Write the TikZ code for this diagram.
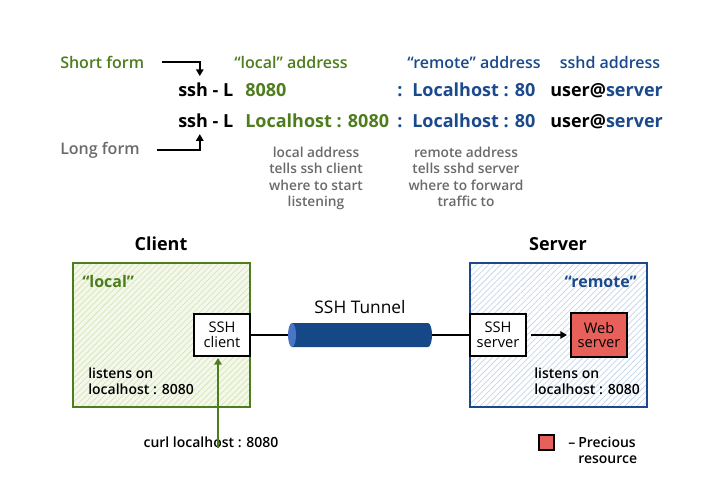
\documentclass[tikz,border=0pt]{standalone}
\usepackage{fontspec}
\setmainfont{Open Sans}
\IfFontExistsTF{Open Sans Semibold}{\newfontfamily\semib{Open Sans Semibold}}{\newcommand\semib{\bfseries}}
\usetikzlibrary{positioning,arrows.meta,patterns.meta}

\definecolor{locgreen}{HTML}{4E7D1E}
\definecolor{remblue}{HTML}{1B4A8C}
\definecolor{notegray}{HTML}{6A6A6A}
\definecolor{hatchgreen}{HTML}{D5E5B8}
\definecolor{palegreen}{HTML}{F4F8EA}
\definecolor{hatchblue}{HTML}{C6D6EC}
\definecolor{tunnelblue}{HTML}{164786}
\definecolor{capblue}{HTML}{4A74C4}
\definecolor{precred}{HTML}{E8605A}

\tikzset{
  heading/.style={font=\fontsize{12}{14}\selectfont\semib, inner sep=0pt, anchor=base},
  cmd/.style={font=\fontsize{13.5}{16}\selectfont\bfseries, inner sep=0pt, anchor=base west},
  note/.style={font=\fontsize{10.3}{12.2}\selectfont\semib, text=notegray, align=center, inner sep=0pt, anchor=north},
  title/.style={font=\fontsize{13.5}{16}\selectfont\bfseries, inner sep=0pt, anchor=base},
  listen/.style={font=\fontsize{10.5}{12}\selectfont\semib, align=left, inner sep=0pt, anchor=north west},
  hostbox/.style={line width=1.5pt, minimum width=132.75pt, minimum height=108pt, inner sep=0pt, outer sep=0pt},
  clientbox/.style={hostbox, draw=locgreen, preaction={fill=palegreen},
    pattern={Lines[angle=45,distance=3.2pt,line width=0.55pt]}, pattern color=hatchgreen},
  serverbox/.style={hostbox, draw=remblue, preaction={fill=white},
    pattern={Lines[angle=45,distance=3.2pt,line width=0.55pt]}, pattern color=hatchblue},
  procbox/.style={draw=black, line width=1.5pt, fill=white, minimum width=42pt, minimum height=31.5pt,
    align=center, inner sep=0pt, outer sep=0pt, font=\fontsize{11}{11}\selectfont},
  link/.style={line width=1.5pt},
  pointer/.style={line width=1.5pt, -{Triangle[length=5pt,width=5.5pt]}}
}

\begin{document}
\begin{tikzpicture}[x=0.75pt, y=-0.75pt]
  \useasboundingbox (0,0) rectangle (720,500);
  \fill[white] (0,0) rectangle (720,500);

  % command line, two forms
  \node[heading, text=locgreen, anchor=base west] (short) at (60,68) {Short form};
  \node[heading, text=notegray, anchor=base west] (long) at (60,154) {Long form};
  \node[heading, text=locgreen] (lochead) at (291,68) {“local” address};
  \node[heading, text=remblue] (remhead) at (474,68) {“remote” address};
  \node[heading, text=remblue] (sshdhead) at (610,68) {sshd address};

  \node[cmd] (cmdA) at (178,96) {ssh - L};
  \node[cmd, text=locgreen] (portA) at (245,96) {8080};
  \node[cmd, text=remblue, anchor=base] (colA) at (400,96) {:};
  \node[cmd, text=remblue] (remA) at (412,96) {Localhost : 80};
  \node[cmd] (userA) at (550,96) {user@\textcolor{remblue}{server}};

  \node[cmd] (cmdB) at (178,127) {ssh - L};
  \node[cmd, text=locgreen] (portB) at (245,127) {Localhost : 8080};
  \node[cmd, text=remblue, anchor=base] (colB) at (400,127) {:};
  \node[cmd, text=remblue] (remB) at (412,127) {Localhost : 80};
  \node[cmd] (userB) at (550,127) {user@\textcolor{remblue}{server}};

  \draw[pointer] ([xshift=13pt]short.east) -| ([xshift=-4.5pt,yshift=4.5pt]cmdA.north);
  \draw[pointer] ([xshift=13pt]long.east) -| ([xshift=-4.5pt,yshift=-5pt]cmdB.south);

  % notes
  \node[note] (locnote) at (316,147) {local address\\tells ssh client\\where to start\\listening};
  \node[note] (remnote) at (466,147) {remote address\\tells sshd server\\where to forward\\traffic to};

  % client side
  \node[title] (clienthead) at (161,250) {Client};
  \node[clientbox] (client) at (161.5,335) {};
  \node[heading, anchor=base west, text=locgreen, font=\fontsize{12}{14}\selectfont\bfseries] (local) at (82,287) {“local”};
  \node[procbox, anchor=east] (sshc) at (client.east) {SSH\\client};
  \node[listen] (clisten) at (88,368) {listens on\\localhost : 8080};
  \node[font=\fontsize{10.5}{12}\selectfont\semib, inner sep=0pt, anchor=base] (curl) at (211,447) {curl localhost : 8080};
  \draw[pointer, locgreen] ([xshift=-3pt,yshift=-9pt]sshc.south |- curl.north) -- ([xshift=-3pt,yshift=-1.5pt]sshc.south);

  % server side
  \node[title] (serverhead) at (558,250) {Server};
  \node[serverbox] (server) at (558.5,335) {};
  \node[heading, anchor=base east, text=remblue, font=\fontsize{12}{14}\selectfont\bfseries] (remote) at (637,287) {“remote”};
  \node[procbox, anchor=west] (sshs) at (server.west) {SSH\\server};
  \node[procbox, fill=precred, minimum height=33pt] (web) at (599,335) {Web\\server};
  \node[listen] (slisten) at (534,368) {listens on\\localhost : 8080};
  \draw[pointer, shorten <=3.5pt, shorten >=3pt] (sshs) -- (web);

  % tunnel
  \node[inner sep=0pt, outer sep=0pt, minimum width=108pt, minimum height=18pt] (tunnel) at (360,335) {};
  \fill[tunnelblue] (292,323) -- (428,323) arc[start angle=-90, end angle=90, x radius=4, y radius=12] -- (292,347) -- cycle;
  \fill[capblue] (292,335) ellipse[x radius=4, y radius=12];
  \node[font=\fontsize{13}{15}\selectfont, inner sep=0pt, anchor=base] (tunnellabel) at (360,313) {SSH Tunnel};
  \draw[link] (sshc) -- (tunnel);
  \draw[link] (tunnel) -- (sshs);

  % legend
  \node[draw=black, line width=1.5pt, fill=precred, minimum width=11.5pt, minimum height=11pt, inner sep=0pt] (legbox) at (546.5,442.5) {};
  \node[font=\fontsize{10.5}{11.5}\selectfont\semib, inner sep=0pt, anchor=base west] (legdash) at (568,447) {–};
  \node[font=\fontsize{10.5}{11.5}\selectfont\semib, inner sep=0pt, anchor=north west, align=left] (legtext) at (578,437) {Precious\\resource};
\end{tikzpicture}
\end{document}
